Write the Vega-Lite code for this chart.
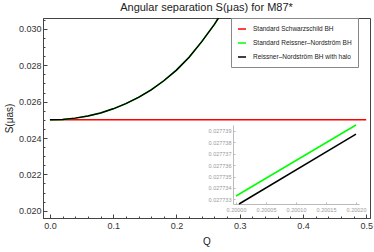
{
  "$schema": "https://vega.github.io/schema/vega-lite/v6.json",
  "width": 327,
  "height": 200,
  "autosize": "none",
  "padding": {"left": 43, "top": 18, "right": 4, "bottom": 34},
  "config": {"view": {"stroke": "#444", "strokeWidth": 1}, "font": "Liberation Sans"},
  "title": {"text": "Angular separation S(μas) for M87*", "fontSize": 11, "font": "Liberation Sans", "fontWeight": "normal", "color": "#222", "offset": 5, "anchor": "middle"},
  "layer": [
    {
      "data": {"values": [
        {"series": "Standard Schwarzschild BH", "Q": 0, "S": 0.025},
        {"series": "Standard Schwarzschild BH", "Q": 0.5, "S": 0.025},
        {"series": "Standard Reissner–Nordström BH", "Q": 0, "S": 0.025},
        {"series": "Standard Reissner–Nordström BH", "Q": 0.02, "S": 0.025023},
        {"series": "Standard Reissner–Nordström BH", "Q": 0.04, "S": 0.025093},
        {"series": "Standard Reissner–Nordström BH", "Q": 0.06, "S": 0.025211},
        {"series": "Standard Reissner–Nordström BH", "Q": 0.08, "S": 0.02538},
        {"series": "Standard Reissner–Nordström BH", "Q": 0.1, "S": 0.025604},
        {"series": "Standard Reissner–Nordström BH", "Q": 0.12, "S": 0.025887},
        {"series": "Standard Reissner–Nordström BH", "Q": 0.14, "S": 0.026234},
        {"series": "Standard Reissner–Nordström BH", "Q": 0.16, "S": 0.026652},
        {"series": "Standard Reissner–Nordström BH", "Q": 0.18, "S": 0.027149},
        {"series": "Standard Reissner–Nordström BH", "Q": 0.2, "S": 0.027734},
        {"series": "Standard Reissner–Nordström BH", "Q": 0.22, "S": 0.028440},
        {"series": "Standard Reissner–Nordström BH", "Q": 0.24, "S": 0.029300},
        {"series": "Standard Reissner–Nordström BH", "Q": 0.26, "S": 0.030250},
        {"series": "Standard Reissner–Nordström BH", "Q": 0.28, "S": 0.031350},
        {"series": "Reissner–Nordström BH with halo", "Q": 0, "S": 0.025},
        {"series": "Reissner–Nordström BH with halo", "Q": 0.02, "S": 0.025023},
        {"series": "Reissner–Nordström BH with halo", "Q": 0.04, "S": 0.025093},
        {"series": "Reissner–Nordström BH with halo", "Q": 0.06, "S": 0.025211},
        {"series": "Reissner–Nordström BH with halo", "Q": 0.08, "S": 0.02538},
        {"series": "Reissner–Nordström BH with halo", "Q": 0.1, "S": 0.025604},
        {"series": "Reissner–Nordström BH with halo", "Q": 0.12, "S": 0.025887},
        {"series": "Reissner–Nordström BH with halo", "Q": 0.14, "S": 0.026234},
        {"series": "Reissner–Nordström BH with halo", "Q": 0.16, "S": 0.026652},
        {"series": "Reissner–Nordström BH with halo", "Q": 0.18, "S": 0.027149},
        {"series": "Reissner–Nordström BH with halo", "Q": 0.2, "S": 0.027733},
        {"series": "Reissner–Nordström BH with halo", "Q": 0.22, "S": 0.028439},
        {"series": "Reissner–Nordström BH with halo", "Q": 0.24, "S": 0.029299},
        {"series": "Reissner–Nordström BH with halo", "Q": 0.26, "S": 0.030249},
        {"series": "Reissner–Nordström BH with halo", "Q": 0.28, "S": 0.031349}
      ]},
      "mark": {"type": "line", "clip": true, "strokeWidth": 1.5},
      "encoding": {
        "x": {"field": "Q", "type": "quantitative",
          "scale": {"domain": [-0.011, 0.506], "nice": false, "zero": false},
          "axis": {"title": "Q", "titleFontSize": 10, "titleFontWeight": "normal", "titleColor": "#222", "titlePadding": 6,
            "values": [0,0.02,0.04,0.06,0.08,0.1,0.12,0.14,0.16,0.18,0.2,0.22,0.24,0.26,0.28,0.3,0.32,0.34,0.36,0.38,0.4,0.42,0.44,0.46,0.48,0.5],
            "labelExpr": "abs(datum.value*10 - round(datum.value*10)) < 0.01 ? format(datum.value, '.1f') : ''",
            "tickSize": {"condition": {"test": "abs(datum.value*10 - round(datum.value*10)) < 0.01", "value": -4}, "value": -2},
            "labelPadding": 7, "labelFontSize": 9, "labelColor": "#333", "domainColor": "#444", "tickColor": "#444", "grid": false}},
        "y": {"field": "S", "type": "quantitative",
          "scale": {"domain": [0.0196, 0.0306], "nice": false, "zero": false},
          "axis": {"title": "S(μas)", "titleFontSize": 10, "titleFontWeight": "normal", "titleColor": "#222", "titlePadding": 4,
            "values": [0.02,0.0205,0.021,0.0215,0.022,0.0225,0.023,0.0235,0.024,0.0245,0.025,0.0255,0.026,0.0265,0.027,0.0275,0.028,0.0285,0.029,0.0295,0.03,0.0305],
            "labelExpr": "abs(datum.value*500 - round(datum.value*500)) < 0.01 ? format(datum.value, '.3f') : ''",
            "tickSize": {"condition": {"test": "abs(datum.value*500 - round(datum.value*500)) < 0.01", "value": -4}, "value": -2},
            "labelPadding": 6, "labelFontSize": 9, "labelColor": "#333", "domainColor": "#444", "tickColor": "#444", "grid": false}},
        "color": {"field": "series", "type": "nominal",
          "scale": {"domain": ["Standard Schwarzschild BH", "Standard Reissner–Nordström BH", "Reissner–Nordström BH with halo"], "range": ["#ff0000", "#00ff00", "#000000"]},
          "legend": {"orient": "none", "legendX": 188, "legendY": 0, "title": null, "symbolType": "stroke", "symbolStrokeWidth": 1.5, "symbolSize": 64,
            "labelFontSize": 6.5, "labelColor": "#222", "padding": 6, "rowPadding": 5, "strokeColor": "#888", "fillColor": "white", "labelOffset": 6}}
      }
    },
    {
      "data": {"values": [
        {"series": "Standard Reissner–Nordström BH", "Qi": 0.2, "Si": 0.0277333},
        {"series": "Standard Reissner–Nordström BH", "Qi": 0.2002, "Si": 0.0277395},
        {"series": "Reissner–Nordström BH with halo", "Qi": 0.200005, "Si": 0.0277326},
        {"series": "Reissner–Nordström BH with halo", "Qi": 0.2002, "Si": 0.0277387}
      ]},
      "mark": {"type": "line", "strokeWidth": 1.5},
      "encoding": {
        "x": {"field": "Qi", "type": "quantitative",
          "scale": {"domain": [0.199995, 0.200205], "range": [190, 316], "nice": false, "zero": false},
          "axis": {"orient": "bottom", "offset": -14, "title": null, "values": [0.2, 0.20005, 0.2001, 0.20015, 0.2002], "format": ".5f",
            "labelFontSize": 5.5, "labelColor": "#999", "domainColor": "#bbb", "tickColor": "#bbb", "tickSize": -2, "labelPadding": 5, "grid": false}},
        "y": {"field": "Si", "type": "quantitative",
          "scale": {"domain": [0.0277326, 0.0277395], "range": [186, 107], "nice": false, "zero": false},
          "axis": {"orient": "left", "offset": -190, "title": null, "values": [0.027733, 0.027734, 0.027735, 0.027736, 0.027737, 0.027738, 0.027739], "format": ".6f",
            "labelFontSize": 5.5, "labelColor": "#999", "domainColor": "#bbb", "tickColor": "#bbb", "tickSize": -2, "labelPadding": 4, "grid": false}},
        "color": {"field": "series", "type": "nominal", "legend": null}
      }
    }
  ],
  "resolve": {"scale": {"x": "independent", "y": "independent"}, "axis": {"x": "independent", "y": "independent"}}
}
